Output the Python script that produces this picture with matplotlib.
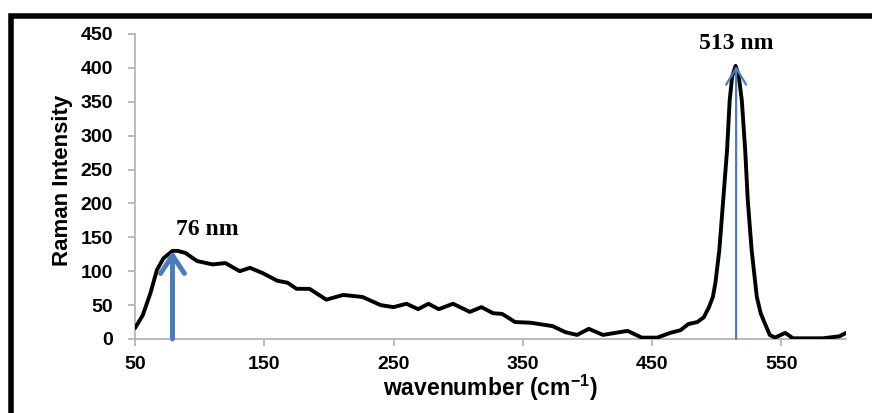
import numpy as np
import matplotlib
matplotlib.use("Agg")
import matplotlib.pyplot as plt
from matplotlib.patches import Rectangle

plt.rcParams["font.family"] = ["Liberation Sans", "DejaVu Sans"]
plt.rcParams["mathtext.fontset"] = "custom"
plt.rcParams["mathtext.rm"] = "Liberation Sans:bold"
plt.rcParams["mathtext.bf"] = "Liberation Sans:bold"

# ---- data ----
wavenumber = [50, 56, 62, 67, 72, 79, 83, 89, 98, 110, 120, 131, 139, 149, 160, 168,
              175, 185, 198, 211, 226, 240, 250, 260, 269, 277, 285, 296, 309, 318,
              327, 334, 344, 356, 373, 383, 392, 401, 412, 431, 442, 454, 464, 472,
              478, 485, 490, 494, 497, 499, 502, 505, 508, 510, 512, 514.6, 517, 519.4,
              522, 524, 527, 531, 534, 537, 541, 545, 553, 559, 582, 595, 600]
intensity = [16, 35, 68, 102, 119, 130, 130, 127, 115, 110, 112, 100, 105, 97, 86, 83,
             74, 74, 58, 65, 62, 50, 47, 52, 44, 52, 44, 52, 40, 47,
             38, 37, 25, 24, 19, 10, 6, 15, 6, 12, 2, 2, 9, 13,
             22, 25, 32, 47, 62, 83, 131, 205, 279, 352, 388, 403, 388, 352,
             279, 205, 131, 62, 38, 24, 6, 2, 9, 1, 1, 4, 9]

peak_pos = [79, 515]
peak_top = [130, 403]
peak_labels = ["76 nm", "513 nm"]
label_pos = [(106, 162), (515, 436)]

x_ticks = [50, 150, 250, 350, 450, 550]
y_ticks = list(range(0, 451, 50))

BLUE = "#4a7ebb"
AXC = "#b5b5b5"

fig = plt.figure(figsize=(8.72, 4.13), dpi=100)
ax = fig.add_axes([0.1548, 0.1792, 0.8154, 0.7385])

# outer black frame (only top and left edges visible)
fig.patches.append(Rectangle((0.0125, -0.2), 1.2, 1.161, transform=fig.transFigure,
                             fill=False, edgecolor="black", lw=4, clip_on=False))

ax.plot(wavenumber, intensity, color="black", lw=2.8, solid_joinstyle="round",
        solid_capstyle="round", zorder=3)

# peak arrows
styles = [(3.6, "->,head_length=0.65,head_width=0.43"),
          (1.6, "->,head_length=0.6,head_width=0.36")]
for xp, yp, (lw, st) in zip(peak_pos, peak_top, styles):
    ax.annotate("", xy=(xp, yp), xytext=(xp, 0),
                arrowprops=dict(arrowstyle=st, mutation_scale=20, lw=lw, color=BLUE,
                                shrinkA=0, shrinkB=0), zorder=4)
for txt, (tx, ty) in zip(peak_labels, label_pos):
    ax.text(tx, ty, txt, ha="center", va="center", fontsize=17, fontweight="bold",
            family="Liberation Serif")

ax.set_xlim(50, 600)
ax.set_ylim(0, 450)
ax.set_xticks(x_ticks)
ax.set_yticks(y_ticks)
for s in ["top", "right"]:
    ax.spines[s].set_visible(False)
for s in ["left", "bottom"]:
    ax.spines[s].set_color(AXC)
    ax.spines[s].set_linewidth(1.3)
ax.tick_params(colors=AXC, length=5, width=1.3, labelcolor="black", labelsize=14)
ax.tick_params(axis="y", pad=11)
ax.tick_params(axis="x", pad=7)
for lab in ax.get_xticklabels() + ax.get_yticklabels():
    lab.set_fontweight("bold")

ax.set_xlabel(r"wavenumber (cm$^{-1}$)", fontsize=16.5, fontweight="bold")
ax.set_ylabel("Raman Intensity", fontsize=16, fontweight="bold")
ax.xaxis.set_label_coords(0.499, -0.11)
ax.yaxis.set_label_coords(-0.087, 0.521)

fig.savefig("out.png", dpi=100)
